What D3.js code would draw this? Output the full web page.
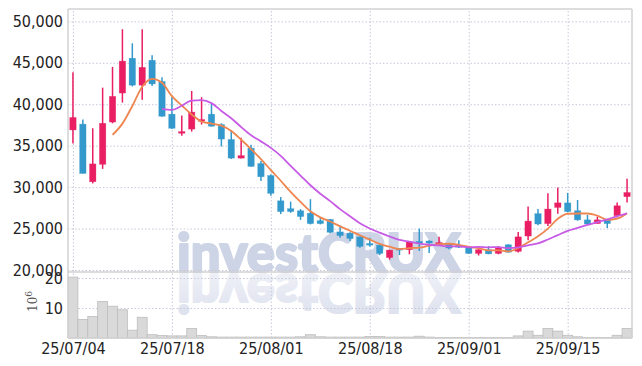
<!DOCTYPE html>
<html><head><meta charset="utf-8">
<script src="https://cdn.jsdelivr.net/npm/d3@7"></script>
<style>html,body{margin:0;padding:0;background:#fff;} svg{display:block;}</style>
</head><body>
<svg id="c" width="642" height="366"></svg>
<script>
const dates = ["25/07/04","25/07/07","25/07/08","25/07/09","25/07/10","25/07/11","25/07/14","25/07/15","25/07/16","25/07/17",
"25/07/18","25/07/21","25/07/22","25/07/23","25/07/24","25/07/25","25/07/28","25/07/29","25/07/30","25/07/31",
"25/08/01","25/08/04","25/08/05","25/08/06","25/08/07","25/08/08","25/08/11","25/08/12","25/08/13","25/08/14",
"25/08/18","25/08/19","25/08/20","25/08/21","25/08/22","25/08/25","25/08/26","25/08/27","25/08/28","25/08/29",
"25/09/01","25/09/02","25/09/03","25/09/04","25/09/05","25/09/08","25/09/09","25/09/10","25/09/11","25/09/12",
"25/09/15","25/09/16","25/09/17","25/09/18","25/09/19","25/09/22","25/09/23"];
const open  = [36900,37600,30650,32750,37850,41350,45550,42300,45300,42750,38800,36500,37000,37950,38800,37550,35750,33500,34700,32850,
31400,28350,27400,27150,26850,25950,26100,24600,24450,24000,23200,23000,21500,22600,22450,23450,23500,23100,23200,23000,
22700,22000,22450,22000,23050,22250,24100,26800,25600,27550,28100,27150,26050,25600,26050,26550,28850];
const high  = [43850,38150,37100,42000,44500,49050,47350,49050,45900,43250,40850,38650,41600,40850,40050,37700,36850,35950,35100,33150,
31550,28800,28250,27350,28550,26350,26150,25400,24550,24050,23900,23050,22450,22650,23450,25000,23600,24000,23250,23600,
22750,22500,22900,22900,23100,24600,27650,27350,29250,29950,29300,28450,26650,26450,26050,28150,31000];
const low   = [35250,31650,30450,32200,37700,40200,42150,40550,42200,38500,37000,36200,36700,37550,37300,34900,33400,33450,32450,30750,
28950,26750,26900,26050,25500,25500,24450,23900,23500,22700,22850,21800,21250,21800,21900,22300,22050,23100,22500,22650,
21950,21750,21900,21900,22100,22100,23600,25400,25300,26800,26950,25950,25500,25600,25050,26350,28150];
const close = [38400,31650,32800,37700,40950,45200,42300,44450,42450,38550,37100,36700,39050,38150,37350,35800,33500,33800,32500,31250,
29250,27050,27050,26450,25600,25600,24550,24150,23800,22850,23000,22000,22400,22400,23400,23250,23250,23300,22650,22750,
22000,22450,21950,22700,22150,24000,25900,25550,27350,28100,27050,26050,25550,26050,25600,27750,29350];
const volume = [20.3,6.2,7.2,12.2,10.6,9.4,2.6,6.9,1.1,0.8,0.7,0.7,3.2,0.8,0.4,0.3,0.3,0.3,0.3,0.3,
0.3,0.3,0.3,0.4,1.1,0.4,0.3,0.3,0.3,0.3,0.5,0.5,0.3,0.3,0.3,0.6,0.3,0.2,0.2,0.2,
0.2,0.2,0.2,0.2,0.2,0.7,2.3,0.9,3.2,2.3,0.9,0.4,0.2,0.2,0.2,0.9,3.2];
const priceTicks = [20000,25000,30000,35000,40000,45000,50000];
const volumeTicks = [10,20];
const dateTicks = ["25/07/04","25/07/18","25/08/01","25/08/18","25/09/01","25/09/15"];
const maPeriods = [5,10];

const L=68,R=632,T=9,MID=272,B=338;
const upC="#e91e63", dnC="#3399cc";
const maColors=["#ef8650","#c75be6"];
const gridC="#c6c8da", frameC="#d2d2d2";
const font="'Liberation Sans Narrow', 'DejaVu Sans Condensed', sans-serif";

const svg=d3.select("#c");
svg.append("rect").attr("width",642).attr("height",366).attr("fill","#fff");

const n=dates.length;
const x=d3.scaleLinear().domain([-0.5,n-0.5]).range([L,R]);
const step=x(1)-x(0);
const y=d3.scaleLinear().domain([19760,51490]).range([MID,T]);
const yv=d3.scaleLinear().domain([0,22]).range([B,MID]);

// watermark
const defs=svg.append("defs");
const gr=defs.append("linearGradient").attr("id","wmg").attr("x1",0).attr("y1",0).attr("x2",0).attr("y2",1);
gr.append("stop").attr("offset","0%").attr("stop-color","#d9deec");
gr.append("stop").attr("offset","100%").attr("stop-color","#f3f4f9");
function wm(g,fill){
  g.append("text").attr("x",177).attr("y",MID).text("investCRUX")
   .attr("font-family","Lato, 'DejaVu Sans', sans-serif").attr("font-weight",900)
   .attr("font-size",54).attr("textLength",284).attr("lengthAdjust","spacingAndGlyphs")
   .attr("fill",fill).attr("stroke",fill).attr("stroke-width",2.2).attr("stroke-linejoin","round");
}
wm(svg.append("g"),"#cdd4e6");
wm(svg.append("g").attr("transform",`translate(0,${2*MID+2}) scale(1,-1)`),"url(#wmg)");

// grids
const dateIdx=dateTicks.map(d=>dates.indexOf(d));
const gy=svg.append("g").attr("transform",`translate(${L},0)`)
  .call(d3.axisLeft(y).tickValues(priceTicks).tickSize(-(R-L)).tickFormat(""));
const gv=svg.append("g").attr("transform",`translate(${L},0)`)
  .call(d3.axisLeft(yv).tickValues(volumeTicks).tickSize(-(R-L)).tickFormat(""));
const gx=svg.append("g").attr("transform",`translate(0,${B})`)
  .call(d3.axisBottom(x).tickValues(dateIdx).tickSize(-(B-T)).tickFormat(""));
[gy,gv,gx].forEach(g=>{g.select(".domain").remove();
  g.selectAll("line").attr("stroke",gridC).attr("stroke-width",1).attr("stroke-dasharray","1.5,2");});

// volume bars
svg.append("g").selectAll("rect").data(volume).join("rect")
  .attr("x",(d,i)=>x(i)-step/2).attr("width",step)
  .attr("y",d=>yv(d)).attr("height",d=>B-yv(d))
  .attr("fill","#d9d9d9").attr("stroke","#bdbdbd").attr("stroke-width",0.8);

// candles
const cg=svg.append("g");
const idx=d3.range(n);
cg.selectAll("line").data(idx).join("line")
  .attr("x1",i=>x(i)).attr("x2",i=>x(i))
  .attr("y1",i=>y(high[i])).attr("y2",i=>y(low[i]))
  .attr("stroke",i=>close[i]>=open[i]?upC:dnC).attr("stroke-width",1.5);
cg.selectAll("rect").data(idx).join("rect")
  .attr("x",i=>x(i)-3.2).attr("width",6.4)
  .attr("y",i=>Math.min(y(open[i]),y(close[i])))
  .attr("height",i=>Math.max(1.6,Math.abs(y(open[i])-y(close[i]))))
  .attr("fill",i=>close[i]>=open[i]?upC:dnC)
  .attr("stroke",i=>close[i]>=open[i]?upC:dnC).attr("stroke-opacity",0.5).attr("stroke-width",0.6);

// moving averages
maPeriods.forEach((p,k)=>{
  const pts=idx.filter(i=>i>=p-1).map(i=>[i,d3.mean(close.slice(i-p+1,i+1))]);
  svg.append("path").datum(pts)
    .attr("d",d3.line().x(d=>x(d[0])).y(d=>y(d[1])).curve(d3.curveMonotoneX))
    .attr("fill","none").attr("stroke",maColors[k]).attr("stroke-width",1.8);
});

// frame
const fr=svg.append("g").attr("stroke",frameC).attr("stroke-width",1.5).attr("fill","none");
fr.append("line").attr("x1",L).attr("x2",R).attr("y1",T).attr("y2",T);
fr.append("line").attr("x1",L).attr("x2",R).attr("y1",MID).attr("y2",MID);
fr.append("line").attr("x1",L).attr("x2",R).attr("y1",B).attr("y2",B);
fr.append("line").attr("x1",L).attr("x2",L).attr("y1",T).attr("y2",B);
fr.append("line").attr("x1",R).attr("x2",R).attr("y1",T).attr("y2",B);

// axis labels
function styleAx(g){g.select(".domain").remove();
  g.selectAll("text").attr("font-family",font).attr("font-size",16).attr("fill","#222");}
styleAx(svg.append("g").attr("transform",`translate(${L},0)`)
  .call(d3.axisLeft(y).tickValues(priceTicks).tickSize(0).tickPadding(5).tickFormat(d3.format(","))));
styleAx(svg.append("g").attr("transform",`translate(${L},0)`)
  .call(d3.axisLeft(yv).tickValues(volumeTicks).tickSize(0).tickPadding(5)));
styleAx(svg.append("g").attr("transform",`translate(0,${B})`)
  .call(d3.axisBottom(x).tickValues(dateIdx).tickSize(0).tickPadding(5).tickFormat(i=>dates[i])));

// 10^6 label
const ul=svg.append("text").attr("transform","translate(37,312) rotate(-90)")
  .attr("font-family","'DejaVu Serif', serif").attr("font-size",12).attr("fill","#555");
ul.append("tspan").text("10");
ul.append("tspan").text("6").attr("font-size",9).attr("dy",-5);
</script>
</body></html>
